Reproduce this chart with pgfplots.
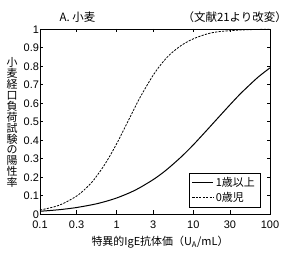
\documentclass[border=0pt]{standalone}
\usepackage{pgfplots}
\pgfplotsset{compat=1.18}
\usepackage{fontspec}
\setmainfont{Liberation Sans}
\newfontfamily\cjk{Noto Sans CJK JP}
\begin{document}
\begin{tikzpicture}
\path[use as bounding box] (-40bp,-41bp) rectangle (250bp,214bp);
\begin{axis}[
  at={(0,0)}, anchor=south west,
  scale only axis, width=230bp, height=185bp,
  xmode=log, xmin=0.1, xmax=100, ymin=0, ymax=1,
  xtick={0.1,0.3,1,3,10,30,100},
  xticklabels={0.1,0.3,1,3,10,30,100},
  ytick={0,0.1,0.2,0.3,0.4,0.5,0.6,0.7,0.8,0.9,1},
  yticklabels={0,0.1,0.2,0.3,0.4,0.5,0.6,0.7,0.8,0.9,1},
  minor xtick={}, 
  tick align=inside, major tick length=3.5bp,
  tick style={black, line width=0.5pt},
  axis line style={line width=0.6pt},
  ticklabel style={font=\fontsize{11}{12}\selectfont},
  xticklabel style={yshift=-3bp},
  yticklabel style={xshift=2.5pt, yshift=-0.5bp},
  legend style={at={(1,0)}, anchor=south east, xshift=-10bp, yshift=7bp,
    draw=black, line width=0.5pt, font=\fontsize{11}{12}\cjk\selectfont,
    inner xsep=3bp, inner ysep=2bp, row sep=0pt},
  legend image code/.code={\draw[#1] (0bp,0bp) -- (21bp,0bp);},
  legend cell align=left,
  clip=false,
]
\addplot[black, line width=1pt, smooth] coordinates {
(0.1,0.0148)(0.15,0.0204)(0.2,0.0255)(0.3,0.035)(0.5,0.0517)(0.7,0.0667)
(1,0.0866)(1.5,0.116)(2,0.142)(3,0.186)(4,0.223)(5,0.256)(7,0.310)
(10,0.374)(15,0.453)(20,0.510)(30,0.590)(40,0.645)(50,0.684)(70,0.740)(100,0.790)};
\addlegendentry{1歳以上}
\addplot[black, line width=0.8pt, dash pattern=on 2.2pt off 1.3pt, smooth] coordinates {
(0.1,0.0213)(0.15,0.0377)(0.2,0.0562)(0.3,0.0968)(0.4,0.140)(0.5,0.183)
(0.7,0.268)(1,0.380)(1.5,0.525)(2,0.627)(3,0.751)(4,0.821)(5,0.864)
(7,0.912)(10,0.947)(15,0.973)(20,0.984)(30,0.991)(50,0.996)(100,0.999)};
\addlegendentry{0歳児}
\end{axis}
\node[font=\fontsize{11.5}{12}\cjk\selectfont] at (37.5bp,197bp) {A. 小麦};
\node[font=\fontsize{11.5}{12}\cjk\selectfont, anchor=east, inner sep=0pt] at (247bp,197bp) {（文献21より改変）};
\node[font=\fontsize{11}{11}\cjk\selectfont, align=center, inner sep=0pt] at (-28bp,91.5bp)
  {小\\麦\\経\\口\\負\\荷\\試\\験\\の\\陽\\性\\率};
\node[font=\fontsize{11}{12}\cjk\selectfont] at (120bp,-28bp) {特異的IgE抗体価（U\textsubscript{A}/mL）};
\end{tikzpicture}
\end{document}
